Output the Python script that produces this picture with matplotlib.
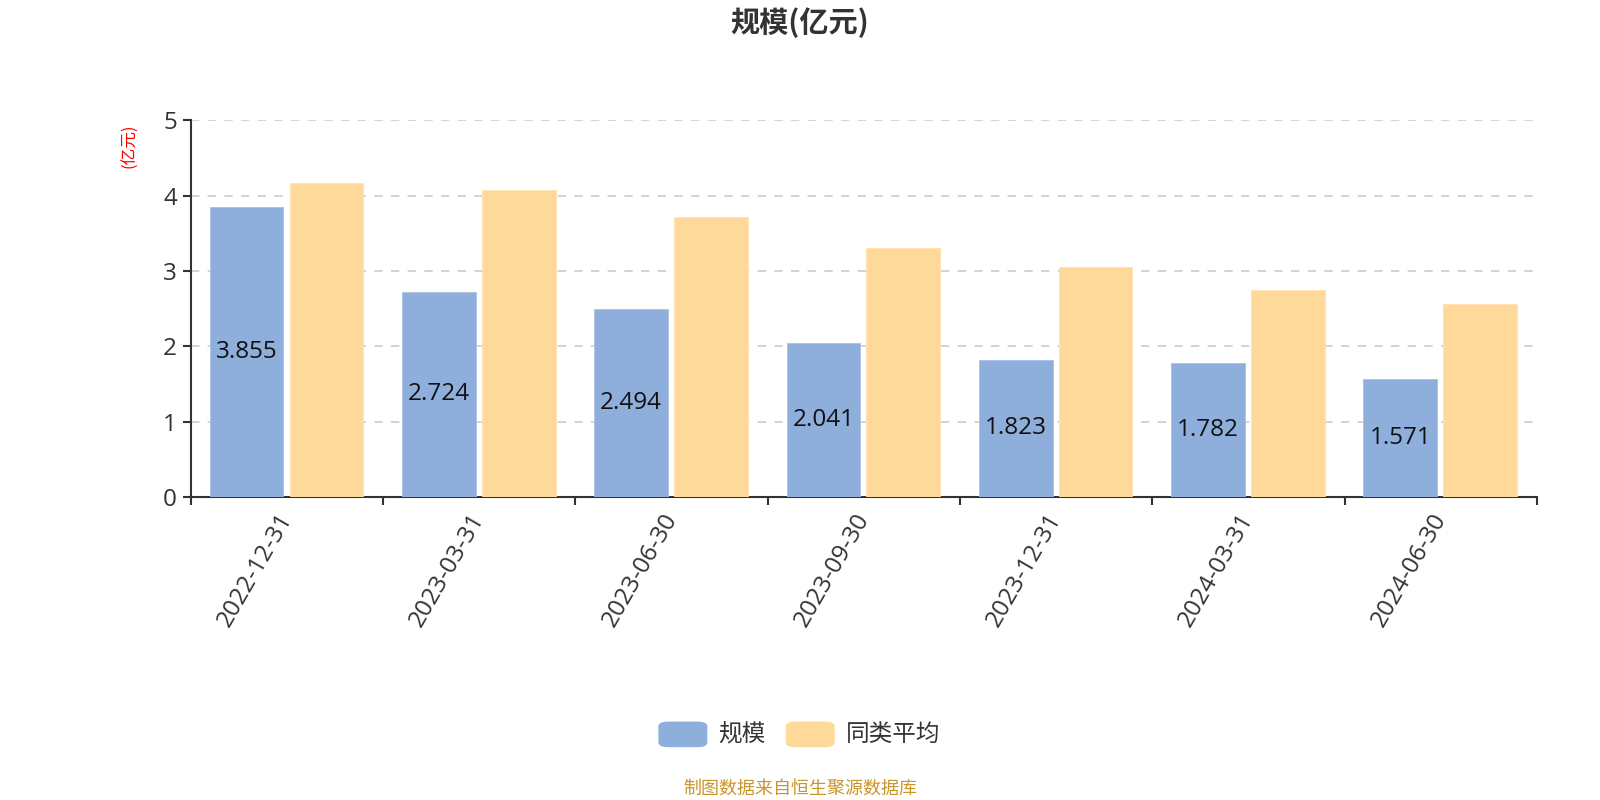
import matplotlib
matplotlib.use('Agg')
import matplotlib.pyplot as plt
import numpy as np
from matplotlib.patches import FancyBboxPatch

plt.rcParams['font.family'] = ['Open Sans', 'Noto Sans CJK SC', 'DejaVu Sans']

# data
dates = ['2022-12-31', '2023-03-31', '2023-06-30', '2023-09-30',
         '2023-12-31', '2024-03-31', '2024-06-30']
scale = [3.855, 2.724, 2.494, 2.041, 1.823, 1.782, 1.571]
peer_avg = [4.17, 4.07, 3.71, 3.31, 3.05, 2.74, 2.56]
series_names = ['规模', '同类平均']
title = '规模(亿元)'
unit_label = '(亿元)'
footer = '制图数据来自恒生聚源数据库'

blue = '#8eaedb'
orange = '#ffd999'
dark = '#333333'
cjk = ['Noto Sans CJK SC', 'DejaVu Sans']

fig = plt.figure(figsize=(16, 8), dpi=100)
ax = fig.add_axes((0.1193, 0.379, 0.8412, 0.4706))

x = np.arange(len(dates))
w = 0.383
b1 = ax.bar(x - 0.21, scale, width=w, color=blue, edgecolor='#a9c1e4', linewidth=0.6, zorder=3)
b2 = ax.bar(x + 0.205, peer_avg, width=w, color=orange, edgecolor='#ffe2b0', linewidth=0.6, zorder=3)

for rect, v in zip(b1, scale):
    ax.text(rect.get_x() + rect.get_width() / 2, v / 2, f'{v:.3f}',
            ha='center', va='center', fontsize=17.5, color='#111111', zorder=4)

ax.set_xlim(-0.5, len(dates) - 0.5)
ax.set_ylim(0, 5)
ax.set_yticks(range(6))
ax.tick_params(axis='y', labelsize=17.5, colors=dark, length=6, width=1.5, pad=4)
ax.yaxis.grid(True, linestyle=(0, (5, 5)), color='#cccccc', linewidth=1.2, zorder=0)

# x ticks at category boundaries, labels at centers
ax.set_xticks(np.arange(len(dates) + 1) - 0.5)
ax.set_xticklabels([])
ax.set_xticks(x, minor=True)
ax.set_xticklabels(dates, minor=True, rotation=60, ha='right', va='center',
                   rotation_mode='anchor', fontsize=17.5, color=dark)
ax.tick_params(axis='x', which='major', length=6, width=1.5, colors=dark)
ax.tick_params(axis='x', which='minor', length=0, pad=13)

for side in ['top', 'right']:
    ax.spines[side].set_visible(False)
for side in ['left', 'bottom']:
    ax.spines[side].set_color(dark)
    ax.spines[side].set_linewidth(1.5)

fig.text(0.5, 0.972, title, ha='center', va='center', fontsize=21,
         fontweight='bold', color=dark, family=cjk)
fig.text(0.081, 0.818, unit_label, ha='center', va='center', rotation=90,
         fontsize=12, color='red', family=cjk)

# legend
leg_y = 0.082
for px, col, name in [(0.4115, blue, series_names[0]), (0.4911, orange, series_names[1])]:
    fig.patches.append(FancyBboxPatch((px, leg_y - 0.016), 0.0306, 0.032,
                                      boxstyle='round,pad=0,rounding_size=0.006',
                                      transform=fig.transFigure, facecolor=col,
                                      edgecolor='none'))
    fig.text(px + 0.0375, leg_y, name, ha='left', va='center', fontsize=17,
             color=dark, family=cjk)

fig.text(0.5, 0.014, footer, ha='center', va='center', fontsize=13,
         color='#c8952a', family=cjk)

fig.savefig('out.png', dpi=100)
